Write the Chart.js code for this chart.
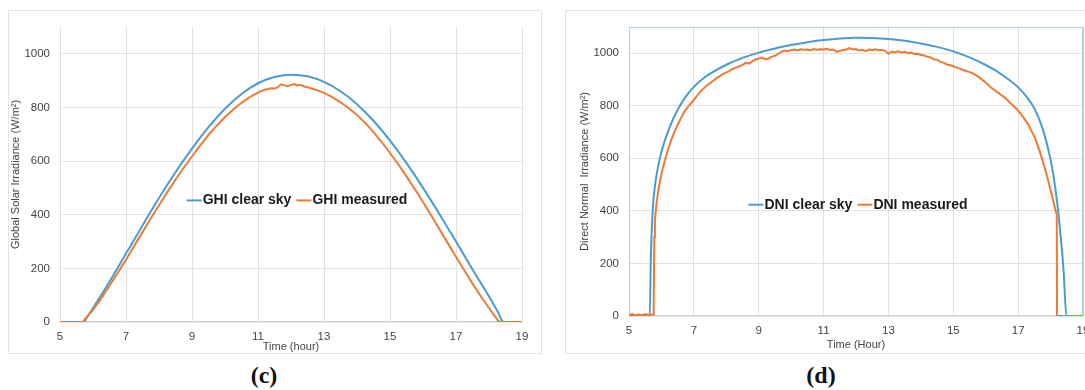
<!DOCTYPE html>
<html>
<head>
<meta charset="utf-8">
<script src="https://cdn.jsdelivr.net/npm/chart.js@4.4.1/dist/chart.umd.min.js"></script>
<style>
    html, body { margin: 0; padding: 0; background: #fff; overflow: hidden; }
    body { width: 1085px; height: 390px; position: relative; }
    .panel { position: absolute; box-sizing: border-box; border: 1px solid #e4e4e4; }
    .plot { position: absolute; }
    .caption {
        position: absolute; width: 100px; text-align: center;
        font: bold 24px "Liberation Serif", "Times New Roman", serif;
        line-height: 24px; color: #111;
    }
</style>
</head>
<body>
<div class="panel" style="left:8px; top:10px; width:534px; height:344px;"></div>
<div class="panel" style="left:565px; top:10px; width:540px; height:344px;"></div>
<div class="plot" style="left:8px; top:10px; width:534px; height:344px;"><canvas id="ghiChart"></canvas></div>
<div class="plot" style="left:565px; top:10px; width:540px; height:344px;"><canvas id="dniChart"></canvas></div>
<div class="caption" style="left:214px; top:363px;">(c)</div>
<div class="caption" style="left:771px; top:363px;">(d)</div>

<script>
// Axis ticks
const hourTicks = [5, 7, 9, 11, 13, 15, 17, 19];
const irradianceTicks = [0, 200, 400, 600, 800, 1000];

// GHI clear sky (hour, W/m2)
const ghiClearHours = [5, 5.5, 5.71, 5.85, 6, 6.5, 7, 7.5, 8, 8.5, 9, 9.5, 10, 10.5, 11, 11.5, 12, 12.5, 13, 13.5, 14, 14.5, 15, 15.5, 16, 16.5, 17, 17.5, 18, 18.25, 18.45, 19];
const ghiClearValues = [0, 0, 0, 24, 52, 150, 255, 360, 462, 558, 646, 726, 795, 850, 890, 913, 922, 916, 895, 860, 812, 750, 676, 592, 500, 402, 300, 196, 95, 42, 0, 0];

// GHI measured
const ghiMeasHours = [5, 5.5, 5.7, 5.75, 6, 6.25, 6.5, 6.75, 7, 7.25, 7.5, 7.75, 8, 8.25, 8.5, 8.75, 9, 9.25, 9.5, 9.75, 10, 10.25, 10.5, 10.75, 11, 11.2, 11.4, 11.5, 11.6, 11.7, 11.8, 11.9, 12, 12.1, 12.2, 12.3, 12.4, 12.5, 12.75, 13, 13.25, 13.5, 13.75, 14, 14.25, 14.5, 14.75, 15, 15.25, 15.5, 15.75, 16, 16.25, 16.5, 16.75, 17, 17.25, 17.5, 17.75, 18, 18.2, 18.28, 18.35, 19];
const ghiMeasValues = [0, 0, 0, 10, 45, 88, 135, 183, 232, 284, 335, 386, 435, 484, 530, 575, 617, 658, 697, 732, 764, 792, 817, 838, 855, 866, 871, 870, 875, 886, 882, 879, 884, 887, 882, 884, 878, 875, 866, 854, 838, 819, 797, 772, 742, 708, 670, 630, 588, 543, 496, 447, 397, 346, 294, 243, 193, 143, 96, 52, 18, 4, 0, 0];

// DNI clear sky
const dniClearHours = [5, 5.64, 5.67, 5.7, 5.74, 5.8, 5.9, 6, 6.25, 6.5, 6.75, 7, 7.25, 7.5, 8, 8.5, 9, 9.5, 10, 10.5, 11, 11.5, 12, 12.5, 13, 13.5, 14, 14.5, 15, 15.5, 16, 16.25, 16.5, 16.75, 17, 17.25, 17.5, 17.75, 18, 18.1, 18.2, 18.3, 18.4, 18.49, 19];
const dniClearValues = [0, 0, 200, 320, 420, 495, 570, 625, 718, 785, 835, 872, 900, 922, 956, 982, 1002, 1018, 1031, 1042, 1050, 1056, 1059, 1058, 1054, 1047, 1037, 1024, 1007, 984, 955, 938, 918, 896, 870, 836, 790, 715, 595, 525, 435, 318, 175, 0, 0];

// DNI measured
const dniMeasHours = [5, 5.1, 5.2, 5.3, 5.4, 5.5, 5.6, 5.7, 5.76, 5.78, 5.8, 5.85, 5.9, 5.95,
    6, 6.1, 6.2, 6.3, 6.4, 6.5, 6.6, 6.7, 6.8, 6.9, 7, 7.1, 7.2, 7.3, 7.4, 7.5, 7.6, 7.7, 7.8, 7.9,
    8, 8.1, 8.2, 8.3, 8.4, 8.5, 8.6, 8.7, 8.8, 8.9, 9, 9.1, 9.2, 9.3, 9.4, 9.5, 9.6, 9.7, 9.8, 9.9,
    10, 10.1, 10.2, 10.3, 10.4, 10.5, 10.6, 10.7, 10.8, 10.9, 11, 11.1, 11.2, 11.3, 11.4, 11.5, 11.6, 11.7, 11.8, 11.9,
    12, 12.1, 12.2, 12.3, 12.4, 12.5, 12.6, 12.7, 12.8, 12.9, 13, 13.1, 13.2, 13.3, 13.4, 13.5, 13.6, 13.7, 13.8, 13.9,
    14, 14.1, 14.2, 14.3, 14.4, 14.5, 14.6, 14.7, 14.8, 14.9, 15, 15.1, 15.2, 15.3, 15.4, 15.5, 15.6, 15.7, 15.8, 15.9,
    16, 16.1, 16.2, 16.3, 16.4, 16.5, 16.6, 16.7, 16.8, 16.9, 17, 17.1, 17.2, 17.3, 17.4, 17.5, 17.6, 17.7, 17.8, 17.9,
    18, 18.1, 18.15, 18.19, 18.2, 19];
const dniMeasValues = [4, 7, 3, 6, 3, 7, 4, 6, 5, 300, 365, 430, 475, 510,
    540, 590, 632, 668, 700, 728, 752, 776, 793, 808, 822, 838, 854, 866, 877, 886, 895, 905, 913, 920,
    927, 933, 940, 945, 951, 955, 964, 960, 969, 976, 980, 983, 977, 979, 987, 990, 997, 1006, 1010, 1007,
    1012, 1014, 1011, 1015, 1013, 1014, 1011, 1016, 1013, 1015, 1014, 1017, 1012, 1014, 1005, 1009, 1012, 1014, 1019, 1014,
    1016, 1010, 1013, 1008, 1014, 1012, 1015, 1011, 1013, 1009, 998, 1006, 1004, 1007, 1003, 1005, 1000, 1002, 997, 998,
    993, 991, 986, 984, 977, 975, 967, 964, 957, 954, 950, 946, 941, 936, 932, 928, 923, 917, 908, 898,
    888, 877, 866, 857, 848, 839, 829, 818, 806, 794, 781, 766, 749, 731, 707, 683, 650, 613, 572, 528,
    478, 430, 402, 385, 0, 0];

const BLUE = '#4a9bd3';
const ORANGE = '#ee7b34';
const GRID = '#e2e2e2';
const FRAME = '#a9d5e8';

Chart.defaults.font.family = '"Liberation Sans", Arial, sans-serif';
Chart.defaults.color = '#444';

function toPoints(hours, values) {
    return hours.map((h, i) => ({ x: h, y: values[i] }));
}

// Legend drawn in the middle of the plot area
const midLegend = {
    id: 'midLegend',
    afterDatasetsDraw(chart, args, opts) {
        const { ctx, chartArea } = chart;
        ctx.save();
        ctx.font = 'bold 14px "Liberation Sans", Arial, sans-serif';
        ctx.textBaseline = 'middle';
        const items = chart.data.datasets.map(ds => ({
            label: ds.label, color: ds.borderColor, w: ctx.measureText(ds.label).width
        }));
        const lineLen = 15, textGap = 1, itemGap = 5;
        const total = items.reduce((s, it) => s + lineLen + textGap + it.w, 0) + itemGap * (items.length - 1);
        let x = (chartArea.left + chartArea.right) / 2 + opts.dx - total / 2;
        const y = chartArea.top + opts.fy * (chartArea.bottom - chartArea.top);
        items.forEach(it => {
            ctx.strokeStyle = it.color;
            ctx.lineWidth = 2;
            ctx.beginPath();
            ctx.moveTo(x, y);
            ctx.lineTo(x + lineLen, y);
            ctx.stroke();
            x += lineLen + textGap;
            ctx.fillStyle = '#1a1a1a';
            ctx.fillText(it.label, x, y);
            x += it.w + itemGap;
        });
        ctx.restore();
    }
};

// Thin frame round the plot area (panel d)
const plotFrame = {
    id: 'plotFrame',
    beforeDatasetsDraw(chart, args, opts) {
        if (!opts.color) return;
        const { ctx, chartArea: a } = chart;
        ctx.save();
        ctx.strokeStyle = opts.color;
        ctx.lineWidth = 1;
        ctx.beginPath();
        ctx.moveTo(a.left + 0.5, a.bottom);
        ctx.lineTo(a.left + 0.5, a.top + 0.5);
        ctx.lineTo(a.right - 0.5, a.top + 0.5);
        ctx.lineTo(a.right - 0.5, a.bottom);
        ctx.stroke();
        ctx.restore();
    }
};

function buildScales(xTitle, yTitle, yWidth, xHeight, yTitlePad, xGridColor) {
    return {
        x: {
            type: 'linear', min: 5, max: 19,
            afterBuildTicks: s => { s.ticks = hourTicks.map(v => ({ value: v })); },
            afterFit: s => { s.height = xHeight; },
            grid: { color: xGridColor, drawTicks: false },
            border: { display: false },
            ticks: { padding: 8, maxRotation: 0, autoSkip: false, font: { size: 11.5 }, callback: v => String(v) },
            title: { display: true, text: xTitle, font: { size: 11 }, padding: 0 }
        },
        y: {
            type: 'linear', min: 0, max: 1100,
            afterBuildTicks: s => { s.ticks = irradianceTicks.map(v => ({ value: v })); },
            afterFit: s => { s.width = yWidth; },
            grid: {
                color: c => c.tick.value === 0 ? '#cfcfcf' : GRID,
                lineWidth: c => c.tick.value === 0 ? 1.5 : 1,
                drawTicks: false
            },
            border: { display: false },
            ticks: { padding: 10, font: { size: 11.5 }, callback: v => String(v) },
            title: { display: true, text: yTitle, font: { size: 11 }, padding: { top: yTitlePad, bottom: 0 } }
        }
    };
}

// Panel (c): GHI
new Chart(document.getElementById('ghiChart'), {
    type: 'line',
    data: {
        datasets: [
            { label: 'GHI clear sky', data: toPoints(ghiClearHours, ghiClearValues), borderColor: BLUE,
              borderWidth: 2, pointRadius: 0, cubicInterpolationMode: 'monotone', order: 1 },
            { label: 'GHI measured', data: toPoints(ghiMeasHours, ghiMeasValues), borderColor: ORANGE,
              borderWidth: 2, pointRadius: 0, tension: 0, order: 0 }
        ]
    },
    options: {
        responsive: true,
        maintainAspectRatio: false,
        animation: false,
        devicePixelRatio: 1,
        layout: { padding: { left: 0, top: 9, right: 20, bottom: 0 } },
        plugins: {
            legend: { display: false },
            tooltip: { enabled: false },
            midLegend: { dx: 6, fy: 0.588 }
        },
        scales: buildScales('Time (hour)', 'Global Solar Irradiance (W/m²)', 52, 32, 1, GRID)
    },
    plugins: [midLegend]
});

// Panel (d): DNI
new Chart(document.getElementById('dniChart'), {
    type: 'line',
    data: {
        datasets: [
            { label: 'DNI clear sky', data: toPoints(dniClearHours, dniClearValues), borderColor: BLUE,
              borderWidth: 2, pointRadius: 0, cubicInterpolationMode: 'monotone', order: 1 },
            { label: 'DNI measured', data: toPoints(dniMeasHours, dniMeasValues), borderColor: ORANGE,
              borderWidth: 2, pointRadius: 0, tension: 0, order: 0 }
        ]
    },
    options: {
        responsive: true,
        maintainAspectRatio: false,
        animation: false,
        devicePixelRatio: 1,
        layout: { padding: { left: 0, top: 6, right: 22, bottom: 2 } },
        plugins: {
            legend: { display: false },
            tooltip: { enabled: false },
            midLegend: { dx: 2, fy: 0.615 },
            plotFrame: { color: FRAME }
        },
        scales: buildScales('Time (Hour)', 'Direct Normal  Irradiance (W/m²)', 64, 36, 13,
            c => (c.tick.value === 5 || c.tick.value === 19) ? FRAME : GRID)
    },
    plugins: [midLegend, plotFrame]
});
</script>
</body>
</html>
